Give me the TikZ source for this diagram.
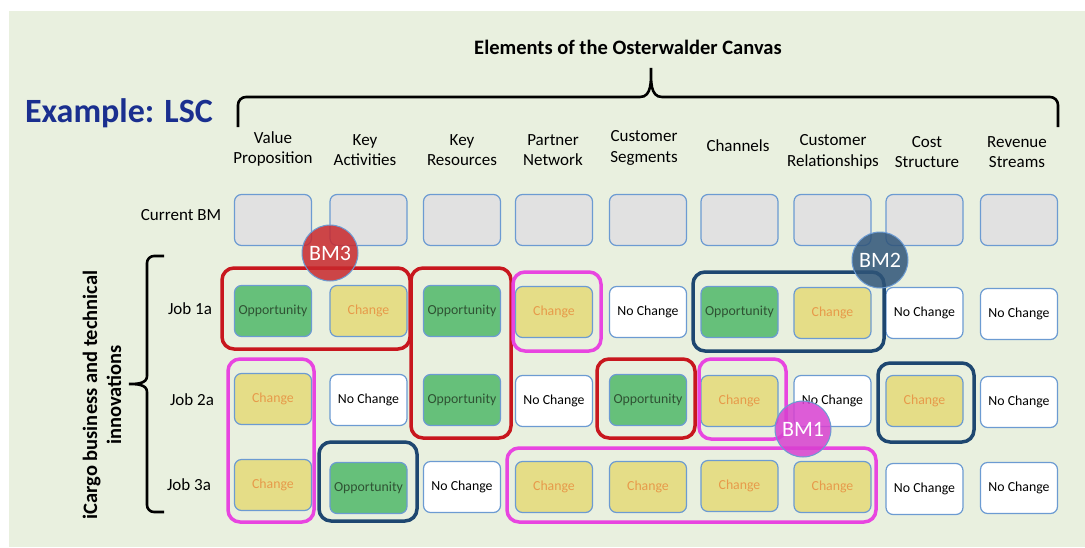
\documentclass[tikz,border=0pt]{standalone}
\usepackage{fontspec}
\setmainfont{Carlito}
\definecolor{panel}{HTML}{E9F0DF}
\definecolor{boxb}{HTML}{6C9BD2}
\definecolor{curg}{HTML}{E1E1E1}
\definecolor{oppg}{HTML}{66C07A}
\definecolor{oppt}{HTML}{2F5233}
\definecolor{chgy}{HTML}{E5DD87}
\definecolor{chgt}{HTML}{E79A4A}
\definecolor{grpred}{HTML}{C8171E}
\definecolor{grpmag}{HTML}{E845E0}
\definecolor{grpblue}{HTML}{1E4770}
\definecolor{titleblue}{HTML}{1A2F8F}
\definecolor{bmred}{HTML}{C8282D}
\definecolor{bmblue}{HTML}{2F5478}
\definecolor{bmmag}{HTML}{D840D0}
\begin{document}
\begin{tikzpicture}[x=1pt,y=-1pt,
  cell/.style={draw=boxb, line width=1.2pt, rounded corners=7pt, minimum width=77pt, minimum height=51pt, inner sep=0pt, font=\fontsize{13.8}{15}\selectfont},
  opp/.style={cell, fill=oppg, text=oppt},
  chg/.style={cell, fill=chgy, text=chgt},
  noc/.style={cell, fill=white, text=black},
  cur/.style={cell, fill=curg},
  hdr/.style={align=center, font=\fontsize{17}{20.5}\selectfont, inner sep=0pt},
  rowlab/.style={font=\fontsize{17}{18}\selectfont, inner sep=0pt},
  grp/.style={line width=3.5pt, rounded corners=12pt},
  bm/.style={circle, draw=boxb, line width=1pt, fill opacity=0.85, text opacity=1, text=white, minimum size=56pt, inner sep=0pt, font=\fontsize{22}{24}\selectfont},
  brace/.style={line width=2.6pt, black}
]
\useasboundingbox (0,0) rectangle (1085,547);
\fill[white] (0,0) rectangle (1085,547);
\fill[panel] (9,11) rectangle (1085,547);

% title and example
\node[font=\fontsize{20.5}{22}\selectfont\bfseries, inner sep=0pt] (title) at (628,47) {Elements of the Osterwalder Canvas};
\node[font=\fontsize{34}{36}\selectfont\bfseries, text=titleblue, inner sep=0pt] (example) at (119,113) {Example: LSC};

% top brace
\draw[brace] (238,127) -- (238,105) to[out=90,in=180] (246,97) -- (640,97) to[out=0,in=-90] (651,68) to[out=-90,in=180] (662,97) -- (1050,97) to[out=0,in=90] (1058,105) -- (1058,127);

% left brace
\draw[brace] (164,256) -- (154,256) to[out=180,in=90] (147,263) -- (147,376) to[out=-90,in=0] (129,384) to[out=0,in=90] (147,392) -- (147,505) to[out=-90,in=180] (154,512) -- (164,512);

% rotated label
\node[rotate=90, align=center, font=\fontsize{20.5}{24}\selectfont\bfseries, inner sep=0pt] (icargo) at (102,395) {iCargo business and technical\\innovations};

% headers
\node[hdr] (h1) at (273,149) {Value\\Proposition};
\node[hdr] (h2) at (365,150) {Key\\Activities};
\node[hdr] (h3) at (462,150) {Key\\Resources};
\node[hdr] (h4) at (553,150) {Partner\\Network};
\node[hdr] (h5) at (644,148) {Customer\\Segments};
\node[hdr] (h6) at (738,146) {Channels};
\node[hdr] (h7) at (833,152) {Customer\\Relationships};
\node[hdr] (h8) at (927,152) {Cost\\Structure};
\node[hdr] (h9) at (1017,152) {Revenue\\Streams};

% row labels
\node[rowlab] (l0) at (181,215) {Current BM};
\node[rowlab] (l1) at (190,309) {Job 1a};
\node[rowlab] (l2) at (192,400) {Job 2a};
\node[rowlab] (l3) at (189,485) {Job 3a};

% current BM row
\foreach \i/\x in {1/273,2/368.5,3/462,4/554,5/648,6/739.5,7/832.5,8/924.5,9/1019}{
  \node[cur] (c0\i) at (\x,220) {};
}
% Job 1a
\node[opp] (c11) at (273,311) {Opportunity};
\node[chg] (c12) at (368.5,311) {Change};
\node[opp] (c13) at (462,311) {Opportunity};
\node[chg] (c14) at (554,312) {Change};
\node[noc] (c15) at (648,312) {No Change};
\node[opp] (c16) at (739.5,312) {Opportunity};
\node[chg] (c17) at (832.5,313) {Change};
\node[noc] (c18) at (924.5,313) {No Change};
\node[noc] (c19) at (1019,314) {No Change};
% Job 2a
\node[chg] (c21) at (273,399) {Change};
\node[noc] (c22) at (368.5,400) {No Change};
\node[opp] (c23) at (462,400) {Opportunity};
\node[noc] (c24) at (554,401) {No Change};
\node[opp] (c25) at (648,400) {Opportunity};
\node[chg] (c26) at (739.5,401) {Change};
\node[noc] (c27) at (832.5,401) {No Change};
\node[chg] (c28) at (924.5,401) {Change};
\node[noc] (c29) at (1019,402) {No Change};
% Job 3a
\node[chg] (c31) at (273,485) {Change};
\node[opp] (c32) at (368.5,488) {Opportunity};
\node[noc] (c33) at (462,487) {No Change};
\node[chg] (c34) at (554,487) {Change};
\node[chg] (c35) at (648,487) {Change};
\node[chg] (c36) at (739.5,486) {Change};
\node[chg] (c37) at (832.5,487) {Change};
\node[noc] (c38) at (924.5,489) {No Change};
\node[noc] (c39) at (1019,488) {No Change};

% group outlines
\draw[grp, grpred] (222,268) rectangle (410,349);
\draw[grp, grpred] (411,268) rectangle (511,438);
\draw[grp, grpmag] (513,272) rectangle (601,351);
\draw[grp, grpblue] (693,272) rectangle (884,351);
\draw[grp, grpred] (597,359) rectangle (695,438);
\draw[grp, grpmag] (699,359) rectangle (786,439);
\draw[grp, grpblue] (878,363) rectangle (974,442);
\draw[grp, grpmag] (228,359) rectangle (314,522);
\draw[grp, grpblue] (319,442) rectangle (417,521);
\draw[grp, grpmag] (507,448) rectangle (876,522);

% BM circles
\node[bm, fill=bmred] (bm3) at (330,253) {BM3};
\node[bm, fill=bmblue] (bm2) at (880,260) {BM2};
\node[bm, fill=bmmag] (bm1) at (803,429) {BM1};
\end{tikzpicture}
\end{document}
